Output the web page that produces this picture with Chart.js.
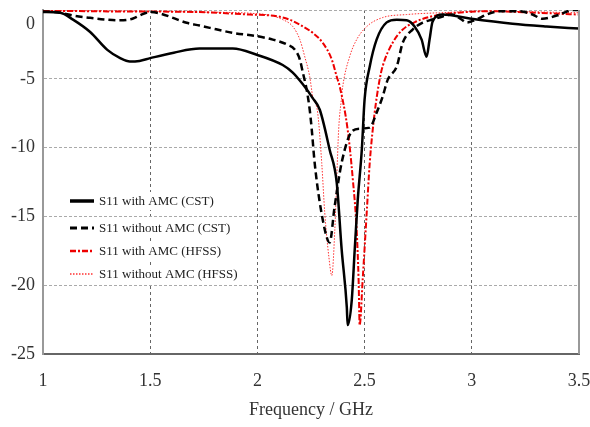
<!DOCTYPE html>
<html><head><meta charset="utf-8">
<script src="https://cdn.jsdelivr.net/npm/chart.js@4.4.1/dist/chart.umd.min.js"></script>
<style>html,body{margin:0;padding:0;background:#fff}</style>
</head><body>
<canvas id="c" width="590" height="427"></canvas>
<script>
// ---- data ----
const seriesNames = ['S11 with AMC (CST)', 'S11 without AMC (CST)', 'S11 with AMC (HFSS)', 'S11 without AMC (HFSS)'];
const xTickValues = [1, 1.5, 2, 2.5, 3, 3.5];
const yTickValues = [0, -5, -10, -15, -20, -25];
const xAxisTitle = 'Frequency / GHz';

const cstAmcF = [1.00,1.08,1.14,1.22,1.30,1.36,1.405,1.45,1.50,1.61,1.73,1.885,1.997,2.118,2.165,2.212,2.258,2.291,2.337,2.37,2.393,2.417,2.421,2.44,2.454,2.468,2.487,2.50,2.524,2.556,2.603,2.65,2.696,2.733,2.766,2.789,2.803,2.817,2.864,2.99,3.19,3.349,3.5];
const cstAmcS = [-0.15,-0.2,-0.7,-1.6,-2.9,-3.5,-3.75,-3.7,-3.5,-3.1,-2.8,-2.8,-3.25,-4.0,-4.55,-5.4,-6.4,-7.25,-10.15,-12.55,-17.4,-21.6,-22.9,-21.1,-17.4,-13.8,-10.15,-6.5,-4.1,-2.15,-0.9,-0.7,-0.75,-1.2,-2.15,-3.4,-2.15,-0.85,-0.33,-0.62,-1.0,-1.2,-1.35];

const cstNoF = [1.00,1.08,1.14,1.22,1.30,1.36,1.42,1.45,1.50,1.545,1.606,1.67,1.73,1.778,1.885,1.997,2.072,2.137,2.174,2.198,2.212,2.23,2.244,2.253,2.267,2.291,2.323,2.337,2.36,2.393,2.44,2.477,2.524,2.556,2.584,2.608,2.65,2.678,2.724,2.771,2.817,2.864,2.91,2.952,2.976,3.022,3.069,3.13,3.223,3.283,3.33,3.36,3.41,3.47,3.5];
const cstNoS = [-0.1,-0.2,-0.4,-0.57,-0.7,-0.75,-0.62,-0.4,-0.15,-0.25,-0.57,-0.93,-1.13,-1.3,-1.66,-1.9,-2.15,-2.5,-2.87,-3.6,-4.55,-5.8,-7.25,-8.6,-11.1,-14.0,-16.5,-16.9,-14.3,-11.1,-8.84,-8.62,-8.55,-7.46,-6.3,-5.06,-4.1,-2.37,-1.42,-0.91,-0.69,-0.47,-0.33,-0.69,-0.91,-0.69,-0.33,-0.09,-0.09,-0.33,-0.64,-0.57,-0.33,0,0];

const hfssAmcF = [1.00,1.3,1.6,1.73,1.964,2.09,2.15,2.21,2.258,2.305,2.347,2.37,2.384,2.421,2.445,2.463,2.472,2.477,2.491,2.51,2.524,2.547,2.57,2.584,2.631,2.678,2.743,2.817,2.929,3.083,3.3,3.5];
const hfssAmcS = [-0.05,-0.1,-0.12,-0.15,-0.33,-0.45,-0.7,-1.18,-1.66,-2.39,-3.6,-4.84,-5.56,-8.7,-12.3,-16.0,-19.6,-22.9,-19.6,-14.7,-11.1,-7.46,-5.06,-4.1,-2.37,-1.42,-0.82,-0.45,-0.2,-0.09,-0.2,-0.33];

const hfssNoF = [1.00,1.4,1.73,2.04,2.118,2.165,2.198,2.221,2.244,2.258,2.281,2.3,2.314,2.333,2.347,2.361,2.37,2.379,2.393,2.398,2.43,2.463,2.51,2.584,2.696,2.85,3.083,3.5];
const hfssNoS = [-0.05,-0.08,-0.15,-0.33,-0.7,-1.2,-2.15,-3.4,-4.84,-6.3,-7.46,-11.1,-14.7,-17.9,-19.3,-16.0,-12.3,-8.7,-6.3,-5.56,-3.4,-2.15,-1.2,-0.55,-0.33,-0.2,-0.09,-0.2];

const toPts = (f, s) => f.map((x, i) => ({x: x, y: s[i]}));

const styles = [
  {color: '#000000', width: 2.5, dash: []},
  {color: '#000000', width: 2.5, dash: [7, 4]},
  {color: '#ee0000', width: 2, dash: [6, 2, 2, 2]},
  {color: '#ff3030', width: 1, dash: [1.5, 1.5]}
];
const seriesData = [toPts(cstAmcF, cstAmcS), toPts(cstNoF, cstNoS), toPts(hfssAmcF, hfssAmcS), toPts(hfssNoF, hfssNoS)];

const datasets = seriesData.map((d, i) => ({
  label: seriesNames[i],
  data: d,
  borderColor: styles[i].color,
  borderWidth: styles[i].width,
  borderDash: styles[i].dash,
  pointRadius: 0,
  fill: false,
  cubicInterpolationMode: 'monotone'
}));

const serif = '"Liberation Serif", "Times New Roman", serif';

const extrasPlugin = {
  id: 'extras',
  afterDraw(chart) {
    const ctx = chart.ctx;
    const a = chart.chartArea;
    ctx.save();
    // right border
    ctx.strokeStyle = '#999';
    ctx.lineWidth = 2;
    ctx.setLineDash([]);
    ctx.beginPath();
    ctx.moveTo(a.right, a.top);
    ctx.lineTo(a.right, a.bottom);
    ctx.stroke();
    // legend
    const rows = [201, 228, 251, 274];
    ctx.font = '13px ' + serif;
    ctx.textBaseline = 'middle';
    rows.forEach((y, i) => {
      const tw = ctx.measureText(seriesNames[i]).width;
      ctx.fillStyle = '#fff';
      ctx.fillRect(66, y - 9, 99 + tw + 4 - 66, 18);
      ctx.strokeStyle = styles[i].color;
      ctx.lineWidth = styles[i].width + (i === 0 ? 1 : 0.5);
      ctx.setLineDash(styles[i].dash);
      ctx.beginPath();
      ctx.moveTo(70, y);
      ctx.lineTo(94, y);
      ctx.stroke();
      ctx.setLineDash([]);
      ctx.fillStyle = '#222';
      ctx.fillText(seriesNames[i], 99, y + 1);
    });
    ctx.restore();
  }
};

new Chart(document.getElementById('c'), {
  type: 'line',
  data: {datasets: datasets},
  plugins: [extrasPlugin],
  options: {
    responsive: false,
    animation: false,
    devicePixelRatio: 1,
    layout: {padding: {left: 0, right: 11, top: 10, bottom: 0}},
    plugins: {legend: {display: false}, tooltip: {enabled: false}},
    scales: {
      x: {
        type: 'linear',
        min: 1, max: 3.5,
        afterBuildTicks: s => { s.ticks = xTickValues.map(v => ({value: v})); },
        ticks: {
          callback: v => String(v),
          font: {family: serif, size: 18},
          color: '#333',
          padding: 16,
          maxRotation: 0
        },
        grid: {color: '#666', drawTicks: false, lineWidth: 1},
        border: {display: true, color: '#666', width: 2, dash: [3, 3]},
        title: {display: true, text: xAxisTitle, font: {family: serif, size: 18}, color: '#333', padding: {top: 0, bottom: 6}},
        afterFit: s => { s.height = 73; s.paddingLeft = 0; s.paddingRight = 0; }
      },
      y: {
        type: 'linear',
        min: -25, max: 0,
        afterBuildTicks: s => { s.ticks = yTickValues.map(v => ({value: v})); },
        ticks: {
          callback: v => v === 0 ? ['', '0'] : String(v),
          font: {family: serif, size: 18, lineHeight: 1.6},
          color: '#333',
          padding: 8
        },
        grid: {color: '#aaa', drawTicks: false, lineWidth: 1},
        border: {display: true, color: '#999', width: 2, dash: [3, 2]},
        afterFit: s => { s.width = 43; s.paddingTop = 0; s.paddingBottom = 0; }
      }
    }
  }
});
</script>
</body></html>
